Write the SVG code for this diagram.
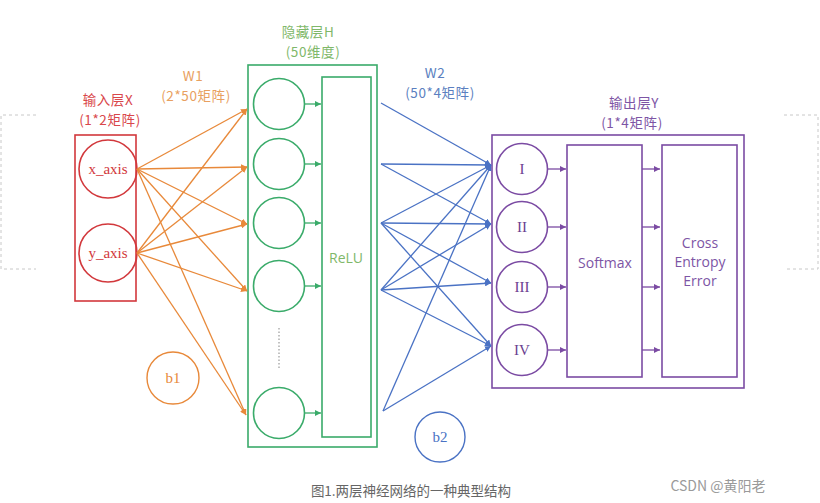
<svg xmlns="http://www.w3.org/2000/svg" width="820" height="503" viewBox="0 0 820 503">
<defs>
<style>
.cjk{font-family:"Noto Sans CJK SC","Noto Sans",sans-serif;font-size:13.5px;text-anchor:middle;letter-spacing:0.6px}
.serif{font-family:"Liberation Serif","DejaVu Serif",serif;font-size:15px;text-anchor:middle}
.sans{font-family:"Open Sans","Noto Sans",sans-serif;font-size:14px;text-anchor:middle}
.red{stroke:#d2383c;fill:none;stroke-width:1.6}
.grn{stroke:#3aab6a;fill:none;stroke-width:1.6}
.pur{stroke:#7b4ba3;fill:none;stroke-width:1.6}
.ow{stroke:#e8893a;stroke-width:1.3;fill:none;marker-end:url(#ao)}
.bw{stroke:#4a72c4;stroke-width:1.3;fill:none;marker-end:url(#ab)}
.ga{stroke:#3aab6a;stroke-width:1.3;fill:none;marker-end:url(#ag)}
.pa{stroke:#7b4ba3;stroke-width:1.3;fill:none;marker-end:url(#ap)}
.dash{stroke:#c8c8c8;stroke-width:1;fill:none;stroke-dasharray:3 3}
</style>
<marker id="ao" viewBox="0 0 10 10" refX="10" refY="5" markerWidth="6" markerHeight="6" orient="auto" markerUnits="userSpaceOnUse"><path d="M0,0L10,5L0,10z" fill="#e8893a"/></marker>
<marker id="ab" viewBox="0 0 10 10" refX="10" refY="5" markerWidth="6" markerHeight="6" orient="auto" markerUnits="userSpaceOnUse"><path d="M0,0L10,5L0,10z" fill="#4a72c4"/></marker>
<marker id="ag" viewBox="0 0 10 10" refX="10" refY="5" markerWidth="6" markerHeight="6" orient="auto" markerUnits="userSpaceOnUse"><path d="M0,0L10,5L0,10z" fill="#3aab6a"/></marker>
<marker id="ap" viewBox="0 0 10 10" refX="10" refY="5" markerWidth="6" markerHeight="6" orient="auto" markerUnits="userSpaceOnUse"><path d="M0,0L10,5L0,10z" fill="#7b4ba3"/></marker>
</defs>
<rect width="820" height="503" fill="#ffffff"/>
<g id="brackets">
<path class="dash" d="M36,115H1V269H36"/>
<path class="dash" d="M784,115H818V269H784"/>
</g>
<g id="input-layer">
<text class="cjk" x="108" y="105" fill="#d9474b">输入层X</text>
<text class="cjk" x="110" y="125" fill="#d9474b">(1*2矩阵)</text>
<rect class="red" x="75" y="135" width="61" height="166"/>
</g>
<g id="x_axis"><circle class="red" cx="108" cy="169" r="29"/><text class="serif" x="108" y="174" fill="#d2383c">x_axis</text></g>
<g id="y_axis"><circle class="red" cx="108" cy="253" r="29"/><text class="serif" x="108" y="258" fill="#d2383c">y_axis</text></g>
<g id="b1"><circle cx="173" cy="378" r="26" fill="none" stroke="#e8893a" stroke-width="1.4"/><text class="serif" x="173" y="383" fill="#e8893a">b1</text></g>
<g id="w1-label">
<text class="cjk" x="193" y="81" fill="#e8a060">W1</text>
<text class="cjk" x="196" y="101" fill="#e8a060">(2*50矩阵)</text>
</g>
<g id="hidden-layer">
<text class="cjk" x="308" y="37" fill="#7fb86a">隐藏层H</text>
<text class="cjk" x="313" y="57" fill="#7fb86a">(50维度)</text>
<rect class="grn" x="248" y="65" width="129" height="382"/>
</g>
<g id="h1"><circle class="grn" cx="279" cy="104" r="25.5"/></g>
<g id="h2"><circle class="grn" cx="279" cy="164" r="25.5"/></g>
<g id="h3"><circle class="grn" cx="279" cy="223" r="25.5"/></g>
<g id="h4"><circle class="grn" cx="279" cy="286" r="25.5"/></g>
<g id="h-dots"><line x1="279" y1="328" x2="279" y2="368" stroke="#9a9a9a" stroke-width="1.2" stroke-dasharray="1.5 2"/></g>
<g id="h5"><circle class="grn" cx="279" cy="413" r="25.5"/></g>
<g id="relu"><rect class="grn" x="322" y="77" width="49" height="360"/><text class="sans" x="346" y="263" fill="#7fb86a">ReLU</text></g>
<g id="w2-label">
<text class="cjk" x="435" y="78" fill="#5b7fc0">W2</text>
<text class="cjk" x="440" y="98" fill="#5b7fc0">(50*4矩阵)</text>
</g>
<g id="b2"><circle cx="440" cy="437" r="25" fill="none" stroke="#4a72c4" stroke-width="1.4"/><text class="serif" x="440" y="442" fill="#4a72c4">b2</text></g>
<g id="output-layer">
<text class="cjk" x="634" y="108" fill="#7d55a5">输出层Y</text>
<text class="cjk" x="632" y="128" fill="#7d55a5">(1*4矩阵)</text>
<rect class="pur" x="492" y="135" width="252" height="253"/>
</g>
<g id="o1"><circle class="pur" cx="522" cy="169" r="25.5"/><text class="serif" x="522" y="174" fill="#6a3f90">I</text></g>
<g id="o2"><circle class="pur" cx="522" cy="227" r="25.5"/><text class="serif" x="522" y="232" fill="#6a3f90">II</text></g>
<g id="o3"><circle class="pur" cx="522" cy="287" r="25.5"/><text class="serif" x="522" y="292" fill="#6a3f90">III</text></g>
<g id="o4"><circle class="pur" cx="522" cy="350" r="25.5"/><text class="serif" x="522" y="355" fill="#6a3f90">IV</text></g>
<g id="softmax"><rect class="pur" x="567" y="145" width="75" height="232"/><text class="sans" x="605" y="268" fill="#7d55a5">Softmax</text></g>
<g id="cross-entropy"><rect class="pur" x="662" y="145" width="75" height="232"/>
<text class="sans" x="700" y="248" fill="#7d55a5">Cross</text>
<text class="sans" x="700" y="267" fill="#7d55a5">Entropy</text>
<text class="sans" x="700" y="286" fill="#7d55a5">Error</text></g>
<g id="connectors">
<line class="ow" x1="137" y1="169" x2="247" y2="109"/>
<line class="ow" x1="137" y1="169" x2="247" y2="167"/>
<line class="ow" x1="137" y1="169" x2="247" y2="224"/>
<line class="ow" x1="137" y1="169" x2="247" y2="291"/>
<line class="ow" x1="137" y1="169" x2="246" y2="415"/>
<line class="ow" x1="137" y1="253" x2="247" y2="109"/>
<line class="ow" x1="137" y1="253" x2="247" y2="167"/>
<line class="ow" x1="137" y1="253" x2="247" y2="224"/>
<line class="ow" x1="137" y1="253" x2="247" y2="291"/>
<line class="ow" x1="137" y1="253" x2="246" y2="415"/>
<line class="ga" x1="305" y1="104" x2="321" y2="104"/>
<line class="ga" x1="305" y1="164" x2="321" y2="164"/>
<line class="ga" x1="305" y1="223" x2="321" y2="223"/>
<line class="ga" x1="305" y1="286" x2="321" y2="286"/>
<line class="ga" x1="305" y1="413" x2="321" y2="413"/>
<line class="bw" x1="381" y1="103" x2="491" y2="165"/>
<line class="bw" x1="381" y1="164" x2="491" y2="165"/>
<line class="bw" x1="381" y1="164" x2="491" y2="224"/>
<line class="bw" x1="381" y1="223" x2="491" y2="165"/>
<line class="bw" x1="381" y1="223" x2="491" y2="224"/>
<line class="bw" x1="381" y1="223" x2="491" y2="283"/>
<line class="bw" x1="381" y1="223" x2="491" y2="346"/>
<line class="bw" x1="381" y1="290" x2="491" y2="165"/>
<line class="bw" x1="381" y1="290" x2="491" y2="224"/>
<line class="bw" x1="381" y1="290" x2="491" y2="283"/>
<line class="bw" x1="381" y1="290" x2="491" y2="346"/>
<line class="bw" x1="383" y1="411" x2="491" y2="165"/>
<line class="bw" x1="383" y1="411" x2="491" y2="346"/>
<line class="pa" x1="548" y1="169" x2="566" y2="169"/>
<line class="pa" x1="548" y1="227" x2="566" y2="227"/>
<line class="pa" x1="548" y1="287" x2="566" y2="287"/>
<line class="pa" x1="548" y1="350" x2="566" y2="350"/>
<line class="pa" x1="642" y1="169" x2="660" y2="169"/>
<line class="pa" x1="642" y1="227" x2="660" y2="227"/>
<line class="pa" x1="642" y1="287" x2="660" y2="287"/>
<line class="pa" x1="642" y1="350" x2="660" y2="350"/>
</g>
<g id="caption">
<text x="411" y="496" font-family="'Noto Sans CJK SC','Noto Sans',sans-serif" font-size="13.5" fill="#666666" text-anchor="middle">图1.两层神经网络的一种典型结构</text>
<text x="718" y="491" font-family="'Noto Sans CJK SC','Noto Sans',sans-serif" font-size="14" fill="#9a9a9a" text-anchor="middle">CSDN @黄阳老</text>
</g>
</svg>
